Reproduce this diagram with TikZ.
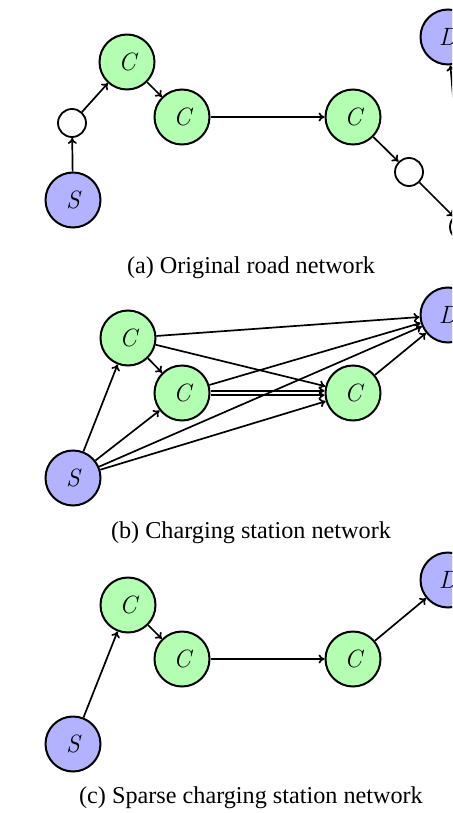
\documentclass[tikz,border=0pt]{standalone}
\usepackage{fontspec}
\setmainfont{Liberation Serif}
\newfontfamily\lmr{Latin Modern Roman}
\newcommand{\lbl}[1]{{\lmr\fontsize{25}{29}\selectfont\itshape #1}}
\usetikzlibrary{arrows.meta}
\begin{document}
\begin{tikzpicture}[x=1pt,y=-1pt,
  every node/.style={font=\fontsize{24}{28}\selectfont},
  cs/.style={circle,draw=black,line width=2pt,fill=green!30,minimum size=55pt,inner sep=0pt},
  ep/.style={circle,draw=black,line width=2pt,fill=blue!30,minimum size=55pt,inner sep=0pt},
  rd/.style={circle,draw=black,line width=1.8pt,fill=white,minimum size=28pt,inner sep=0pt},
  ed/.style={line width=1.7pt,-{To[length=6pt,width=9pt]}},
  captxt/.style={font=\fontsize{24.2}{28}\selectfont}]
\useasboundingbox (0,0) rectangle (452,813);
\begin{scope}
\clip (0,0) rectangle (452,813);
% ---------- (a) ----------
\node[ep] (aS) at (73,200) {\lbl{S}};
\node[rd] (aw1) at (72,123) {};
\node[cs] (aC1) at (127,62) {\lbl{C}};
\node[cs] (aC2) at (182,117) {\lbl{C}};
\node[cs] (aC3) at (353,117) {\lbl{C}};
\node[rd] (aw2) at (409,172) {};
\node[rd] (aw3) at (464,227) {};
\node[ep] (aD) at (448,37) {\lbl{D}};
\draw[ed] (aS) -- (aw1);
\draw[ed] (aw1) -- (aC1);
\draw[ed] (aC1) -- (aC2);
\draw[ed] (aC2) -- (aC3);
\draw[ed] (aC3) -- (aw2);
\draw[ed] (aw2) -- (aw3);
\draw[ed] (aw3) -- (aD);
\node[captxt] (capa) at (251,268) {(a) Original road network};
% ---------- (b) ----------
\node[ep] (bS) at (73,478) {\lbl{S}};
\node[cs] (bC1) at (128,338) {\lbl{C}};
\node[cs] (bC2) at (182,393) {\lbl{C}};
\node[cs] (bC3) at (353,393) {\lbl{C}};
\node[ep] (bD) at (448,315) {\lbl{D}};
\draw[ed] (bS) -- (bC1);
\draw[ed] (bS) -- (bC2);
\draw[ed] (bS) -- (bC3);
\draw[ed] (bS) -- (bD);
\draw[ed] (bC1) -- (bC2);
\draw[ed] (bC1) -- (bC3);
\draw[ed] (bC1) -- (bD);
\draw[ed,transform canvas={yshift=2.2pt}] (bC2) -- (bC3);
\draw[ed,transform canvas={yshift=-2.2pt}] (bC2) -- (bC3);
\draw[ed] (bC2) -- (bD);
\draw[ed] (bC3) -- (bD);
\node[captxt] (capb) at (251,533) {(b) Charging station network};
% ---------- (c) ----------
\node[ep] (cS) at (73,744) {\lbl{S}};
\node[cs] (cC1) at (128,605) {\lbl{C}};
\node[cs] (cC2) at (182,659) {\lbl{C}};
\node[cs] (cC3) at (353,659) {\lbl{C}};
\node[ep] (cD) at (448,580) {\lbl{D}};
\draw[ed] (cS) -- (cC1);
\draw[ed] (cC1) -- (cC2);
\draw[ed] (cC2) -- (cC3);
\draw[ed] (cC3) -- (cD);
\node[captxt] (capc) at (251,798) {(c) Sparse charging station network};
\end{scope}
\end{tikzpicture}
\end{document}
